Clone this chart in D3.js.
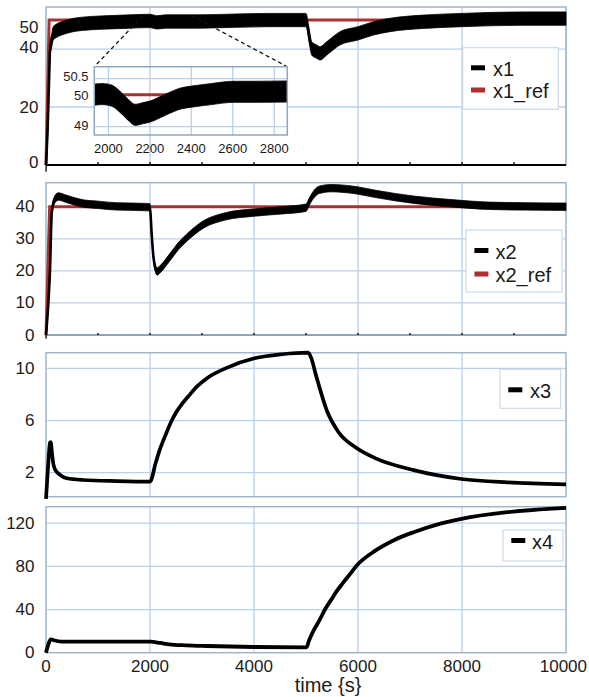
<!DOCTYPE html>
<html><head><meta charset="utf-8">
<script src="https://cdn.jsdelivr.net/npm/d3@7/dist/d3.min.js"></script>
<style>
body{margin:0;background:#fff}
svg{display:block}
text{font-family:"Liberation Sans",Arial,Helvetica,sans-serif;fill:#1a1a1a}
</style>
</head><body>
<svg id="chart" width="589" height="697"></svg>
<script>
// ---------------- DATA ----------------
const xDomain = [0, 10000];
const xTickLabels = [0, 2000, 4000, 6000, 8000, 10000];
const xMinorTicks = [1000, 2000, 3000, 4000, 5000, 6000, 7000, 8000, 9000];
const xAxisTitle = "time {s}";

// x1 (noisy) : centre of the noise band and its half width
const x1Time = [0, 30, 60, 77, 110, 140, 200, 300, 500, 700, 1040, 1500, 2000, 2130, 2300, 2960, 4245, 5000, 5064, 5110, 5205, 5270, 5397, 5654, 6000, 6295, 6615, 7256, 8000, 9180, 10000];
const x1Mid  = [0, 12, 30, 39.6, 43, 45.4, 46.3, 47.1, 48.2, 48.7, 49.1, 49.4, 49.7, 49.2, 49.5, 49.5, 50, 50, 44.2, 40.2, 39.1, 38.5, 40.2, 43.7, 45.4, 47.1, 48.3, 49.4, 50, 50.5, 50.5];
const x1Noise = 2.3;
const x1RefTime = [0, 60, 10000];
const x1RefVal  = [0, 50, 50];

// x1 zoomed inset
const x1ZoomTime = [1932, 1970, 2016, 2064, 2100, 2129, 2165, 2200, 2273, 2354, 2402, 2498, 2602, 2707, 2863];
const x1ZoomMid  = [50.0, 50.02, 49.97, 49.73, 49.5, 49.37, 49.42, 49.47, 49.68, 49.89, 49.94, 50.02, 50.09, 50.09, 50.1];
const x1ZoomNoise = 0.33;
const zoomTimeDomain = [1932, 2863];
const zoomValueDomain = [48.74, 50.875];
const zoomXTicks = [2000, 2200, 2400, 2600, 2800];
const zoomYTicks = [49, 50, 50.5];
const zoomFromTime = [1865, 2800];
const zoomFromValue = 51.5;

// x2 (noisy)
const x2Time = [0, 45, 77, 110, 160, 237, 400, 715, 1000, 1360, 1935, 2000, 2030, 2065, 2100, 2137, 2200, 2370, 2550, 2730, 3020, 3450, 4010, 4540, 5000, 5060, 5120, 5260, 5480, 5980, 6340, 7070, 7790, 8510, 9230, 10000];
const x2Mid  = [0, 10, 20.3, 38, 42, 43.2, 42.4, 41, 40.6, 40.1, 39.9, 39.8, 32, 24.5, 21, 19.8, 20.6, 24, 27.8, 30.7, 34.4, 37, 38.2, 38.9, 39.7, 41.5, 43.2, 45.3, 45.8, 45.1, 44, 42.2, 41.1, 40.3, 40.1, 40];
const x2Noise = 1.15;
const x2RefTime = [0, 70, 10000];
const x2RefVal  = [0, 40, 40];

// x3
const x3Time = [0, 40, 77, 90, 115, 140, 180, 237, 300, 400, 717, 1360, 2000, 2115, 2200, 2300, 2400, 2510, 2620, 2730, 2900, 3090, 3450, 4010, 4540, 5040, 5100, 5190, 5410, 5620, 5980, 6340, 7070, 7990, 8870, 10000];
const x3Val  = [0, 2.5, 4.3, 4.35, 3.5, 2.7, 2.2, 1.95, 1.75, 1.57, 1.44, 1.36, 1.32, 2.84, 3.9, 4.9, 5.85, 6.67, 7.3, 7.82, 8.6, 9.23, 10.0, 10.77, 11.08, 11.2, 10.8, 9.5, 6.67, 5.14, 3.87, 3.1, 2.2, 1.52, 1.26, 1.11];

// x4
const x4Time = [0, 40, 90, 150, 300, 920, 2010, 2200, 2370, 2700, 3090, 4010, 5010, 5060, 5120, 5180, 5260, 5370, 5480, 5590, 5700, 5850, 5980, 6340, 6700, 7070, 7500, 7990, 8870, 10000];
const x4Val  = [0, 7, 12.4, 11.5, 10.2, 10.2, 10.2, 9, 7.7, 6.8, 6.2, 5.3, 5.0, 11.5, 18, 23.5, 30.2, 40.5, 48.7, 57, 64, 73, 81, 94.8, 104.5, 111.7, 118.5, 124.1, 130.2, 134.3];

const yTicks1 = [0, 20, 40, 50];
const yTicks2 = [0, 10, 20, 30, 40];
const yTicks3 = [2, 6, 10];
const yTicks4 = [0, 40, 80, 120];

// ---------------- LAYOUT / STYLE ----------------
const svg = d3.select("#chart");
const L = 46, R = 566;
const GRID = "#b8d0ea", FRAME = "#9fb5cc", RED = "#ad3030", INK = "#000";
const x = d3.scaleLinear().domain(xDomain).range([L, R]);

const panels = [
  {top: 7,     bottom: 165,   dom: [0, 54.5],   ticks: yTicks1, vgrid: [2000, 6000, 8000, 10000], hgrid: [20, 40], labelX: 38.5, nudge: {0: -3, 40: -2, 50: 7}},
  {top: 182.7, bottom: 335,   dom: [0, 47.5],   ticks: yTicks2, vgrid: [2000, 4000, 6000, 8000], hgrid: [10, 20, 30, 40], labelX: 34.5, nudge: {}},
  {top: 352.7, bottom: 496.7, dom: [0.16, 11.2],ticks: yTicks3, vgrid: [2000, 4000, 6000, 8000], hgrid: [2, 6, 10], labelX: 34.5, nudge: {}},
  {top: 506.7, bottom: 652.7, dom: [0, 135.3],  ticks: yTicks4, vgrid: [2000, 4000, 6000, 8000], hgrid: [40, 80, 120], labelX: 34.5, nudge: {}}
];
panels.forEach(p => { p.y = d3.scaleLinear().domain(p.dom).range([p.bottom, p.top]); });

function drawPanelBase(p) {
  const g = svg.append("g");
  g.selectAll(".vg").data(p.vgrid).join("line")
    .attr("x1", d => x(d)).attr("x2", d => x(d)).attr("y1", p.top).attr("y2", p.bottom)
    .attr("stroke", GRID).attr("stroke-width", 1.3);
  g.selectAll(".hg").data(p.hgrid).join("line")
    .attr("x1", L).attr("x2", R).attr("y1", d => p.y(d)).attr("y2", d => p.y(d))
    .attr("stroke", GRID).attr("stroke-width", 1.3);
  g.append("rect").attr("x", L).attr("y", p.top).attr("width", R - L).attr("height", p.bottom - p.top)
    .attr("fill", "none").attr("stroke", FRAME).attr("stroke-width", 1.5);
  g.selectAll(".yl").data(p.ticks).join("text")
    .attr("x", p.labelX).attr("y", d => p.y(d) + (p.nudge[d] || 0))
    .attr("text-anchor", "end").attr("dominant-baseline", "central")
    .attr("font-size", 17).text(d => d);
  return g;
}
panels.forEach(drawPanelBase);

// bottom axes of panels 1 and 2
function bottomAxis(p, color, w, tickLen) {
  svg.append("line").attr("x1", L).attr("x2", R).attr("y1", p.bottom).attr("y2", p.bottom)
    .attr("stroke", color).attr("stroke-width", w);
  svg.selectAll(null).data(xMinorTicks).join("line")
    .attr("x1", d => x(d)).attr("x2", d => x(d)).attr("y1", p.bottom).attr("y2", p.bottom - tickLen)
    .attr("stroke", "#000").attr("stroke-width", 1.3);
}
bottomAxis(panels[0], "#000", 2, 3);
bottomAxis(panels[1], "#8199b1", 1.6, 2);

// helpers
function zip(t, v) { return t.map((d, i) => ({t: d, v: v[i]})); }
function drawBand(p, t, mid, noise, xs) {
  xs = xs || x;
  const data = zip(t, mid);
  const area = d3.area().curve(d3.curveMonotoneX)
    .x(d => xs(d.t)).y0(d => p.y(d.v - noise)).y1(d => p.y(d.v + noise));
  const line = d3.line().curve(d3.curveMonotoneX).x(d => xs(d.t)).y(d => p.y(d.v));
  const g = svg.append("g");
  g.append("path").attr("d", area(data)).attr("fill", INK).attr("stroke", INK).attr("stroke-width", 0.8);
  g.append("path").attr("d", line(data)).attr("fill", "none").attr("stroke", INK).attr("stroke-width", 2.6);
  return g;
}
function drawLine(p, t, v, color, w, xs) {
  xs = xs || x;
  const line = d3.line().curve(d3.curveMonotoneX).x(d => xs(d.t)).y(d => p.y(d.v));
  return svg.append("path").attr("d", line(zip(t, v))).attr("fill", "none")
    .attr("stroke", color).attr("stroke-width", w).attr("stroke-linejoin", "round");
}
function drawRef(p, t, v, xs) {
  xs = xs || x;
  const line = d3.line().x(d => xs(d.t)).y(d => p.y(d.v));
  return svg.append("path").attr("d", line(zip(t, v))).attr("fill", "none")
    .attr("stroke", RED).attr("stroke-width", 3);
}
function legend(box, entries) {
  const g = svg.append("g");
  g.append("rect").attr("x", box.x).attr("y", box.y).attr("width", box.w).attr("height", box.h)
    .attr("fill", "#fff").attr("stroke", "#ccd9e7").attr("stroke-width", 1.2);
  entries.forEach(e => {
    g.append("rect").attr("x", box.sx).attr("y", e.cy - 2.5).attr("width", 14).attr("height", 5).attr("fill", e.color);
    g.append("text").attr("x", box.tx).attr("y", e.cy + 8.3).attr("font-size", 20).text(e.label);
  });
}

// ---------------- PANEL 1 : x1 ----------------
const P1 = panels[0];
drawRef(P1, x1RefTime, x1RefVal);
drawBand(P1, x1Time, x1Mid, x1Noise);

// inset
const inset = {x0: 94.3, x1: 287.3, y0: 66.7, y1: 135};
const xi = d3.scaleLinear().domain(zoomTimeDomain).range([inset.x0, inset.x1]);
const PI = {y: d3.scaleLinear().domain(zoomValueDomain).range([inset.y1, inset.y0])};
// connectors
svg.selectAll(null).data([[zoomFromTime[0], inset.x0], [zoomFromTime[1], inset.x1]]).join("line")
  .attr("x1", d => x(d[0])).attr("y1", P1.y(zoomFromValue))
  .attr("x2", d => d[1]).attr("y2", inset.y0)
  .attr("stroke", "#111").attr("stroke-width", 1.3).attr("stroke-dasharray", "4,3");
svg.append("rect").attr("x", inset.x0).attr("y", inset.y0).attr("width", inset.x1 - inset.x0).attr("height", inset.y1 - inset.y0)
  .attr("fill", "#fff");
svg.selectAll(null).data(zoomXTicks).join("line")
  .attr("x1", d => xi(d)).attr("x2", d => xi(d)).attr("y1", inset.y0).attr("y2", inset.y1)
  .attr("stroke", GRID).attr("stroke-width", 1.3);
svg.selectAll(null).data(zoomYTicks).join("line")
  .attr("x1", inset.x0).attr("x2", inset.x1).attr("y1", d => PI.y(d)).attr("y2", d => PI.y(d))
  .attr("stroke", GRID).attr("stroke-width", 1.3);
svg.append("clipPath").attr("id", "insetClip").append("rect")
  .attr("x", inset.x0).attr("y", inset.y0).attr("width", inset.x1 - inset.x0).attr("height", inset.y1 - inset.y0);
drawRef(PI, zoomTimeDomain, [50, 50], xi).attr("clip-path", "url(#insetClip)");
const zb = drawBand(PI, x1ZoomTime, x1ZoomMid, x1ZoomNoise, xi).attr("clip-path", "url(#insetClip)");
zb.select("path:last-child").attr("stroke-width", 1.5);
svg.append("rect").attr("x", inset.x0).attr("y", inset.y0).attr("width", inset.x1 - inset.x0).attr("height", inset.y1 - inset.y0)
  .attr("fill", "none").attr("stroke", "#8ea6be").attr("stroke-width", 1.5);
svg.selectAll(null).data(zoomYTicks).join("text")
  .attr("x", 88.5).attr("y", d => PI.y(d) + (d === 50.5 ? -2 : (d === 49 ? -1.5 : 1)))
  .attr("text-anchor", "end").attr("dominant-baseline", "central").attr("font-size", 13).text(d => d);
svg.selectAll(null).data(zoomXTicks).join("text")
  .attr("x", d => xi(d)).attr("y", 152.5).attr("text-anchor", "middle").attr("font-size", 13).text(d => d);

legend({x: 462.7, y: 47.7, w: 95.6, h: 61.6, sx: 471, tx: 493},
  [{label: "x1", color: INK, cy: 67.8}, {label: "x1_ref", color: RED, cy: 90}]);

// ---------------- PANEL 2 : x2 ----------------
const P2 = panels[1];
drawRef(P2, x2RefTime, x2RefVal);
drawBand(P2, x2Time, x2Mid, x2Noise);
legend({x: 466, y: 230, w: 96, h: 62, sx: 474.4, tx: 495.5},
  [{label: "x2", color: INK, cy: 250.5}, {label: "x2_ref", color: RED, cy: 274}]);

// ---------------- PANEL 3 : x3 ----------------
const P3 = panels[2];
drawLine(P3, x3Time, x3Val, INK, 3.7);
legend({x: 500, y: 369.3, w: 60.7, h: 39, sx: 508.3, tx: 530}, [{label: "x3", color: INK, cy: 389.8}]);

// ---------------- PANEL 4 : x4 ----------------
const P4 = panels[3];
drawLine(P4, x4Time, x4Val, INK, 3.8);
legend({x: 503, y: 530, w: 60, h: 31, sx: 511.3, tx: 532}, [{label: "x4", color: INK, cy: 540.5}]);

// x tick labels and title
svg.selectAll(null).data(xTickLabels).join("text")
  .attr("x", d => d === xDomain[1] ? 587 : x(d))
  .attr("y", 672.3)
  .attr("text-anchor", d => d === xDomain[1] ? "end" : "middle")
  .attr("font-size", 17).text(d => d);
svg.append("text").attr("x", 328).attr("y", 692).attr("text-anchor", "middle")
  .attr("font-size", 20).text(xAxisTitle);
</script>
</body></html>
